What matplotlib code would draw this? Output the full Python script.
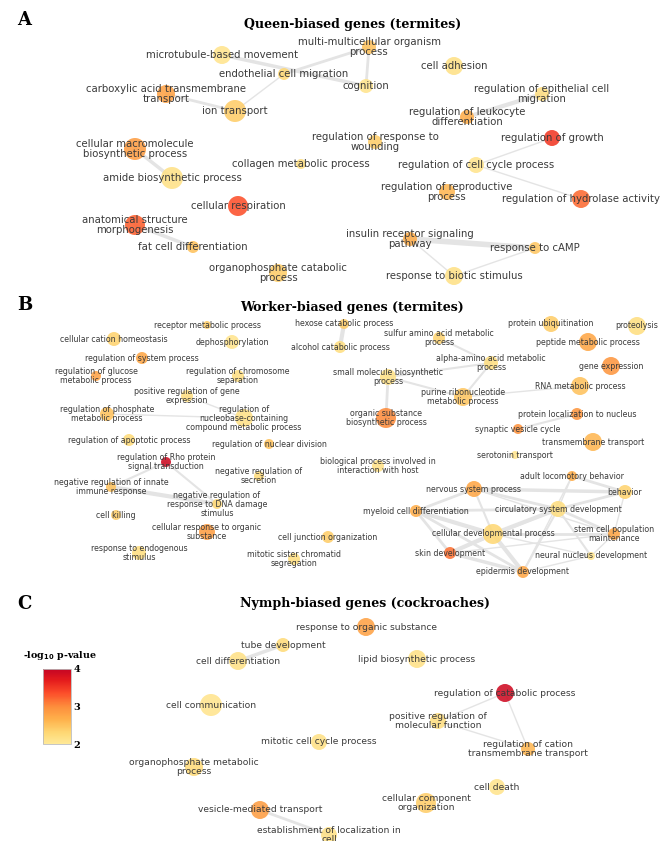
import numpy as np
import matplotlib
matplotlib.use("Agg")
import matplotlib.pyplot as plt
from matplotlib.colors import LinearSegmentedColormap, Normalize
from matplotlib.cm import ScalarMappable

# ---------------- panel A: queen-biased genes (termites) ----------------
a_terms = ["microtubule-based movement", "endothelial cell migration",
           "multi-multicellular organism\nprocess", "cognition", "cell adhesion",
           "carboxylic acid transmembrane\ntransport", "ion transport",
           "regulation of epithelial cell\nmigration", "regulation of leukocyte\ndifferentiation",
           "regulation of growth", "regulation of response to\nwounding",
           "collagen metabolic process", "regulation of cell cycle process",
           "cellular macromolecule\nbiosynthetic process", "amide biosynthetic process",
           "regulation of reproductive\nprocess", "regulation of hydrolase activity",
           "cellular respiration", "anatomical structure\nmorphogenesis",
           "fat cell differentiation", "organophosphate catabolic\nprocess",
           "insulin receptor signaling\npathway", "response to cAMP",
           "response to biotic stimulus"]
a_x = [222, 284, 369, 366, 454, 166, 235, 542, 467, 552, 375, 301, 476, 135, 172,
       447, 581, 238, 135, 193, 278, 410, 535, 454]
a_y = [55, 74, 47, 86, 66, 94, 111, 94, 117, 138, 142, 164, 165, 149, 178,
       192, 199, 206, 225, 247, 273, 239, 248, 276]
a_logp = [2.1, 2.3, 2.5, 2.1, 2.15, 2.8, 2.4, 2.2, 2.7, 3.5, 2.4, 2.2, 2.1, 2.85, 2.15,
          2.6, 3.2, 3.35, 3.25, 2.5, 2.4, 2.7, 2.45, 2.15]
a_size = [9, 6, 7, 7, 9, 9, 11, 7, 7, 8, 7, 5, 8, 11, 11, 8, 9, 10, 10, 6, 9, 7, 6, 9]
a_edges = [(0, 3, 2.5), (1, 2, 2.0), (2, 3, 2.0), (1, 6, 1.0), (5, 6, 2.0),
           (13, 14, 2.5), (18, 19, 2.5), (7, 8, 3.0), (9, 12, 1.0), (12, 16, 1.0),
           (21, 22, 4.0), (21, 23, 1.0), (23, 22, 1.0)]

# ---------------- panel B: worker-biased genes (termites) ----------------
b_terms = ["receptor metabolic process", "cellular cation homeostasis", "dephosphorylation",
           "regulation of system process", "regulation of glucose\nmetabolic process",
           "regulation of chromosome\nseparation", "positive regulation of gene\nexpression",
           "regulation of phosphate\nmetabolic process",
           "regulation of\nnucleobase-containing\ncompound metabolic process",
           "regulation of apoptotic process", "regulation of nuclear division",
           "regulation of Rho protein\nsignal transduction", "negative regulation of\nsecretion",
           "negative regulation of innate\nimmune response",
           "negative regulation of\nresponse to DNA damage\nstimulus",
           "cell killing", "cellular response to organic\nsubstance",
           "response to endogenous\nstimulus", "cell junction organization",
           "mitotic sister chromatid\nsegregation", "hexose catabolic process",
           "alcohol catabolic process", "small molecule biosynthetic\nprocess",
           "organic substance\nbiosynthetic process",
           "biological process involved in\ninteraction with host",
           "sulfur amino acid metabolic\nprocess", "alpha-amino acid metabolic\nprocess",
           "purine ribonucleotide\nmetabolic process", "protein ubiquitination", "proteolysis",
           "peptide metabolic process", "gene expression", "RNA metabolic process",
           "protein localization to nucleus", "synaptic vesicle cycle",
           "transmembrane transport", "serotonin transport", "adult locomotory behavior",
           "nervous system process", "behavior", "myeloid cell differentiation",
           "circulatory system development", "stem cell population\nmaintenance",
           "cellular developmental process", "skin development",
           "neural nucleus development", "epidermis development"]
b_x = [207, 114, 232, 142, 96, 238, 187, 107, 244, 129, 269, 166, 259, 111, 217, 116,
       207, 139, 328, 294, 344, 340, 388, 386, 378, 439, 491, 463, 551, 637, 588, 611,
       580, 577, 518, 593, 515, 572, 474, 625, 416, 558, 614, 493, 450, 591, 523]
b_y = [325, 339, 342, 358, 376, 376, 396, 414, 418, 440, 444, 462, 476, 487, 504, 515,
       532, 553, 537, 559, 324, 347, 377, 418, 466, 338, 363, 397, 324, 326, 342, 366,
       386, 414, 429, 442, 455, 476, 489, 492, 511, 509, 534, 534, 553, 556, 572]
b_logp = [2.4, 2.35, 2.1, 2.75, 2.8, 2.2, 2.2, 2.5, 2.15, 2.25, 2.5, 3.9, 2.25, 2.5, 2.3,
          2.4, 2.85, 2.2, 2.4, 2.2, 2.4, 2.2, 2.15, 3.0, 2.15, 2.35, 2.2, 2.45, 2.4, 2.2,
          2.75, 2.9, 2.5, 2.9, 2.95, 2.6, 2.1, 2.7, 2.75, 2.35, 2.7, 2.2, 2.75, 2.3, 3.15,
          2.1, 2.75]
b_size = [4, 7, 7, 6, 5, 6, 6, 7, 9, 6, 5, 5, 5, 5, 5, 5, 8, 7, 6, 6, 5, 6, 8, 10, 6,
          6, 7, 9, 8, 9, 9, 9, 9, 6, 5, 9, 4, 5, 8, 7, 6, 8, 6, 10, 6, 4, 6]
b_edges = [(20, 21, 3.0), (25, 26, 1.5), (22, 26, 1.5), (22, 27, 1.5), (26, 27, 1.5),
           (22, 23, 2.0), (27, 32, 1.0), (33, 34, 1.5), (6, 8, 1.0), (7, 8, 1.0),
           (11, 13, 1.5), (11, 14, 1.5), (13, 14, 3.0),
           (40, 38, 2.0), (40, 41, 2.0), (40, 43, 3.0), (40, 44, 2.0), (40, 46, 2.0),
           (38, 39, 2.5), (38, 41, 2.0), (38, 43, 1.5), (38, 42, 1.0), (41, 39, 2.0),
           (41, 43, 3.0), (41, 42, 2.0), (41, 45, 1.5), (41, 46, 1.5), (41, 37, 1.0),
           (41, 44, 1.5), (37, 39, 2.0), (37, 46, 1.0), (39, 42, 1.0), (43, 44, 3.0),
           (43, 46, 3.0), (43, 42, 2.0), (44, 46, 2.5), (44, 42, 1.0), (46, 45, 1.0),
           (42, 45, 1.0), (43, 45, 1.0)]

# ---------------- panel C: nymph-biased genes (cockroaches) ----------------
c_terms = ["response to organic substance", "tube development", "cell differentiation",
           "lipid biosynthetic process", "cell communication",
           "regulation of catabolic process", "positive regulation of\nmolecular function",
           "regulation of cation\ntransmembrane transport", "mitotic cell cycle process",
           "organophosphate metabolic\nprocess", "cell death", "cellular component\norganization",
           "vesicle-mediated transport", "establishment of localization in\ncell"]
c_x = [366, 283, 238, 417, 211, 505, 438, 528, 319, 194, 497, 426, 260, 329]
c_y = [627, 645, 661, 659, 705, 693, 721, 749, 742, 767, 787, 803, 810, 835]
c_logp = [2.8, 2.25, 2.15, 2.15, 2.1, 3.9, 2.2, 2.6, 2.15, 2.25, 2.1, 2.4, 2.85, 2.15]
c_size = [9, 7, 9, 9, 11, 9, 8, 7, 8, 9, 8, 10, 9, 8]
c_edges = [(1, 2, 2.5), (5, 6, 1.0), (5, 7, 1.0), (6, 7, 1.0), (12, 13, 2.0)]

cmap = LinearSegmentedColormap.from_list(
    "go", plt.cm.YlOrRd(np.linspace(0.15, 0.85, 64)))
norm = Normalize(2, 4)

W, H = 660, 841
fig = plt.figure(figsize=(W / 100, H / 100), dpi=100)
ax = fig.add_axes([0, 0, 1, 1])
ax.set_xlim(0, W)
ax.set_ylim(H, 0)
ax.axis("off")

serif = "DejaVu Serif"


def draw_panel(terms, xs, ys, logp, size, edges, fs):
    for i, j, w in edges:
        ax.plot([xs[i], xs[j]], [ys[i], ys[j]], color="#e4e4e4", lw=w,
                solid_capstyle="round", zorder=1)
    s = (1.44 * np.array(size)) ** 2
    ax.scatter(xs, ys, s=s, c=logp, cmap=cmap, norm=norm, alpha=0.88,
               linewidths=0, zorder=2)
    for t, x, y in zip(terms, xs, ys):
        ax.text(x, y, t, fontsize=fs, color="#3a3a3a", ha="center", va="center",
                linespacing=1.0, zorder=3)


draw_panel(a_terms, a_x, a_y, a_logp, a_size, a_edges, 7.3)
draw_panel(b_terms, b_x, b_y, b_logp, b_size, b_edges, 5.7)
draw_panel(c_terms, c_x, c_y, c_logp, c_size, c_edges, 6.6)

titles = ["Queen-biased genes (termites)", "Worker-biased genes (termites)",
          "Nymph-biased genes (cockroaches)"]
title_x = [353, 352, 365]
title_y = [24, 307, 603]
letters = ["A", "B", "C"]
letter_y = [20, 305, 604]
for t, tx, ty, l, ly in zip(titles, title_x, title_y, letters, letter_y):
    ax.text(tx, ty, t, fontsize=9.1, fontweight="bold", family=serif,
            ha="center", va="center")
    ax.text(17, ly, l, fontsize=13, fontweight="bold", family=serif,
            ha="left", va="center")

# colorbar
cax = fig.add_axes([43 / W, 1 - 744 / H, 28 / W, 75 / H])
cb = fig.colorbar(ScalarMappable(norm=norm, cmap=cmap), cax=cax, ticks=[2, 3, 4])
cb.outline.set_edgecolor("#bbbbbb")
cb.outline.set_linewidth(0.6)
cax.tick_params(length=0, pad=2)
for lab in cax.get_yticklabels():
    lab.set_family(serif)
    lab.set_fontweight("bold")
    lab.set_fontsize(7)
ax.text(60, 656, r"-log$_{\mathbf{10}}$ p-value", fontsize=6.8, fontweight="bold",
        family=serif, ha="center", va="center")

fig.savefig("out.png", dpi=100)
